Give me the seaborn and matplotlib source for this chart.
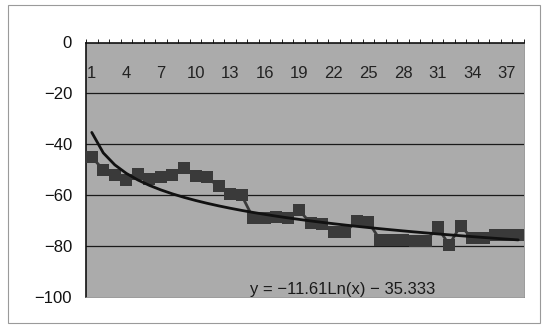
import numpy as np
import pandas as pd
import matplotlib.pyplot as plt
import seaborn as sns
from matplotlib.patches import Rectangle

categories = list(range(1, 39))
values = [-45, -50, -52, -54, -51.5, -53.5, -53, -52, -49.5, -52.5,
          -53, -56.5, -59.5, -60, -69, -69, -68.5, -69, -66, -71,
          -71.5, -74.5, -74.5, -70, -70.5, -77.5, -77.5, -77.5, -78, -78,
          -72.5, -79.5, -72, -77, -77, -75.5, -75.5, -75.5]
tick_labels = [str(c) for c in categories[::3]]
y_ticks = [0, -20, -40, -60, -80, -100]

# Log trendline coefficients as printed on the chart
trend_a = -11.61
trend_b = -35.333
trend_label = "y = \u221211.61Ln(x) \u2212 35.333"

df = pd.DataFrame({"x": categories, "y": values})
df["trend"] = trend_a * np.log(df["x"]) + trend_b

sns.set_style("white")
plt.rcParams["font.family"] = ["Liberation Sans", "DejaVu Sans"]

fig = plt.figure(figsize=(5.45, 3.31), dpi=100)
ax = fig.add_axes([86 / 545, 1 - 297 / 331, 438 / 545, 254.5 / 331])
ax.set_facecolor("#ababab")

# outer chart border
fig.patches.append(Rectangle((8 / 545, 1 - 323 / 331), 532 / 545, 318 / 331,
                             transform=fig.transFigure, fill=False,
                             edgecolor="#9a9a9a", linewidth=0.8))

for g in y_ticks[1:-1]:
    ax.axhline(g, color="#1a1a1a", linewidth=0.9, zorder=1)

sns.lineplot(data=df, x="x", y="y", ax=ax, color="#3a3a3a", linewidth=2.0,
             marker="s", markersize=8, markeredgewidth=0, zorder=3)
sns.lineplot(data=df, x="x", y="trend", ax=ax, color="#111111", linewidth=2.0,
             zorder=4)

ax.set_xlim(0.5, 38.5)
ax.set_ylim(-100, 0)
ax.set_xlabel("")
ax.set_ylabel("")

# category axis sits at y = 0 (top), labels drawn inside the plot area
ax.xaxis.tick_top()
ax.set_xticks(categories[::3])
ax.set_xticklabels(tick_labels)
ax.set_xticks(np.arange(0.5, 39, 1), minor=True)
ax.tick_params(axis="x", which="major", length=0, pad=-28, labelsize=12,
               labelcolor="#222222")
ax.tick_params(axis="x", which="minor", top=True, length=3, width=0.7,
               direction="out", color="#222222")

ax.set_yticks(y_ticks)
ax.set_yticklabels([str(v).replace("-", "\u2212") for v in y_ticks])
ax.tick_params(axis="y", length=0, pad=10, labelsize=12, labelcolor="#111111")

ax.text(0.374, -99, trend_label, transform=ax.get_yaxis_transform(),
        ha="left", va="baseline", fontsize=12, color="#1a1a1a")

for side in ["left", "top"]:
    ax.spines[side].set_color("#111111")
    ax.spines[side].set_linewidth(1.2)
for side in ["right", "bottom"]:
    ax.spines[side].set_color("#8a8a8a")
    ax.spines[side].set_linewidth(0.6)

fig.savefig("out.png", dpi=100)
plt.close(fig)
